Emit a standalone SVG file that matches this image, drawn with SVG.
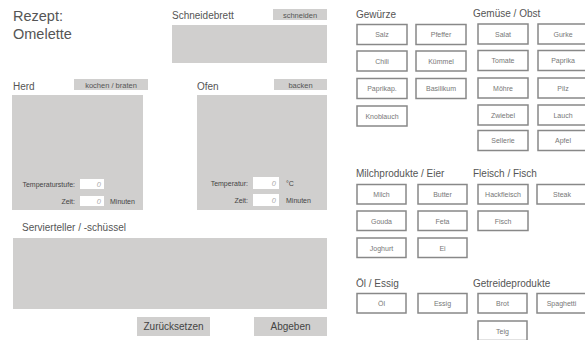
<svg xmlns="http://www.w3.org/2000/svg" width="585" height="340" viewBox="0 0 585 340">
<style>
text{font-family:"Liberation Sans",Arial,sans-serif;fill:#555}
.title{font-size:14.5px}
.lbl{font-size:10px}
.area{fill:#d0cfce}
.tag{fill:#d0cfce}
.tagt{font-size:7.5px;text-anchor:middle;fill:#555}
.inp{fill:#fff}
.inpt{font-size:7.5px;font-style:italic;fill:#aaa;text-anchor:end}
.small{font-size:7px;fill:#444}
.r{text-anchor:end}
.btn rect{fill:#fff;stroke:#888;stroke-width:1.5}
.btn text{font-size:7px;text-anchor:middle;fill:#777}
.big rect{fill:#d0cfce}
.big text{font-size:10px;text-anchor:middle;fill:#444}
</style>
<rect width="585" height="340" fill="#fff"/>
<g id="title">
<text class="title" x="13" y="21">Rezept:</text>
<text class="title" x="13" y="39">Omelette</text>
</g>
<g id="schneidebrett">
<text class="lbl" x="172" y="19">Schneidebrett</text>
<rect class="tag" x="273" y="9" width="54" height="11"/>
<text class="tagt" x="300" y="17.5">schneiden</text>
<rect class="area" x="172" y="25" width="155" height="38"/>
</g>
<g id="herd">
<text class="lbl" x="13" y="90">Herd</text>
<rect class="tag" x="74" y="79" width="74" height="11"/>
<text class="tagt" x="111" y="87.5">kochen / braten</text>
<rect class="area" x="12" y="95" width="131" height="115"/>
<text class="small r" x="75" y="187">Temperaturstufe:</text>
<rect class="inp" x="80" y="179" width="24" height="10"/>
<text class="inpt" x="101" y="187">0</text>
<text class="small r" x="75" y="204">Zeit:</text>
<rect class="inp" x="80" y="196" width="24" height="10"/>
<text class="inpt" x="101" y="204">0</text>
<text class="small" x="110" y="204">Minuten</text>
</g>
<g id="ofen">
<text class="lbl" x="197" y="90">Ofen</text>
<rect class="tag" x="274" y="79" width="53" height="11"/>
<text class="tagt" x="300.5" y="87.5">backen</text>
<rect class="area" x="197" y="95" width="130" height="115"/>
<text class="small r" x="248" y="186">Temperatur:</text>
<rect class="inp" x="253" y="177" width="26" height="12"/>
<text class="inpt" x="276" y="186">0</text>
<text class="small" x="286" y="186">°C</text>
<text class="small r" x="248" y="203">Zeit:</text>
<rect class="inp" x="253" y="194" width="26" height="12"/>
<text class="inpt" x="276" y="203">0</text>
<text class="small" x="286" y="203">Minuten</text>
</g>
<g id="servierteller">
<text class="lbl" x="22" y="231">Servierteller / -schüssel</text>
<rect class="area" x="13" y="238" width="314" height="71"/>
</g>
<g id="zuruecksetzen" class="big">
<rect x="137" y="317" width="73" height="19"/>
<text x="173.5" y="330">Zurücksetzen</text>
</g>
<g id="abgeben" class="big">
<rect x="254" y="317" width="73" height="19"/>
<text x="290.5" y="330">Abgeben</text>
</g>
<g id="gewuerze">
<text class="lbl" x="356" y="18">Gewürze</text>
<g class="btn"><rect x="357" y="24.5" width="50" height="20"/><text x="382" y="37">Salz</text></g>
<g class="btn"><rect x="416" y="24.5" width="50" height="20"/><text x="441" y="37">Pfeffer</text></g>
<g class="btn"><rect x="357" y="51" width="50" height="20"/><text x="382" y="63.5">Chili</text></g>
<g class="btn"><rect x="416" y="51" width="50" height="20"/><text x="441" y="63.5">Kümmel</text></g>
<g class="btn"><rect x="357" y="78.5" width="50" height="20"/><text x="382" y="91">Paprikap.</text></g>
<g class="btn"><rect x="416" y="78.5" width="50" height="20"/><text x="441" y="91">Basilikum</text></g>
<g class="btn"><rect x="357" y="106" width="50" height="20"/><text x="382" y="118.5">Knoblauch</text></g>
</g>
<g id="gemuese">
<text class="lbl" x="473" y="17">Gemüse / Obst</text>
<g class="btn"><rect x="478" y="24" width="50" height="20"/><text x="503" y="36.5">Salat</text></g>
<g class="btn"><rect x="538" y="24" width="50" height="20"/><text x="563" y="36.5">Gurke</text></g>
<g class="btn"><rect x="478" y="50.5" width="50" height="20"/><text x="503" y="63">Tomate</text></g>
<g class="btn"><rect x="538" y="50.5" width="50" height="20"/><text x="563" y="63">Paprika</text></g>
<g class="btn"><rect x="478" y="78" width="50" height="20"/><text x="503" y="90.5">Möhre</text></g>
<g class="btn"><rect x="538" y="78" width="50" height="20"/><text x="563" y="90.5">Pilz</text></g>
<g class="btn"><rect x="478" y="105" width="50" height="20"/><text x="503" y="117.5">Zwiebel</text></g>
<g class="btn"><rect x="538" y="105" width="50" height="20"/><text x="563" y="117.5">Lauch</text></g>
<g class="btn"><rect x="478" y="130.5" width="50" height="20"/><text x="503" y="143">Sellerie</text></g>
<g class="btn"><rect x="538" y="130.5" width="50" height="20"/><text x="563" y="143">Apfel</text></g>
</g>
<g id="milch">
<text class="lbl" x="356" y="177">Milchprodukte / Eier</text>
<g class="btn"><rect x="357" y="184.5" width="49" height="19.5"/><text x="381.5" y="197">Milch</text></g>
<g class="btn"><rect x="418" y="184.5" width="49" height="19.5"/><text x="442.5" y="197">Butter</text></g>
<g class="btn"><rect x="357" y="211" width="49" height="19.5"/><text x="381.5" y="223.5">Gouda</text></g>
<g class="btn"><rect x="418" y="211" width="49" height="19.5"/><text x="442.5" y="223.5">Feta</text></g>
<g class="btn"><rect x="357" y="238" width="49" height="19.5"/><text x="381.5" y="250.5">Joghurt</text></g>
<g class="btn"><rect x="418" y="238" width="49" height="19.5"/><text x="442.5" y="250.5">Ei</text></g>
</g>
<g id="fleisch">
<text class="lbl" x="473" y="177">Fleisch / Fisch</text>
<g class="btn"><rect x="478" y="184.5" width="50" height="19.5"/><text x="503" y="197">Hackfleisch</text></g>
<g class="btn"><rect x="537" y="184.5" width="50" height="19.5"/><text x="562" y="197">Steak</text></g>
<g class="btn"><rect x="478" y="211" width="50" height="19.5"/><text x="503" y="223.5">Fisch</text></g>
</g>
<g id="oel">
<text class="lbl" x="356" y="287">Öl / Essig</text>
<g class="btn"><rect x="357" y="293.5" width="49" height="19.5"/><text x="381.5" y="306">Öl</text></g>
<g class="btn"><rect x="418" y="293.5" width="49" height="19.5"/><text x="442.5" y="306">Essig</text></g>
</g>
<g id="getreide">
<text class="lbl" x="473" y="287">Getreideprodukte</text>
<g class="btn"><rect x="478" y="293.5" width="49" height="19.5"/><text x="502.5" y="306">Brot</text></g>
<g class="btn"><rect x="537" y="293.5" width="49" height="19.5"/><text x="561.5" y="306">Spaghetti</text></g>
<g class="btn"><rect x="478" y="321" width="49" height="19.5"/><text x="502.5" y="333.5">Teig</text></g>
</g>
<g id="connectors"/>
</svg>
